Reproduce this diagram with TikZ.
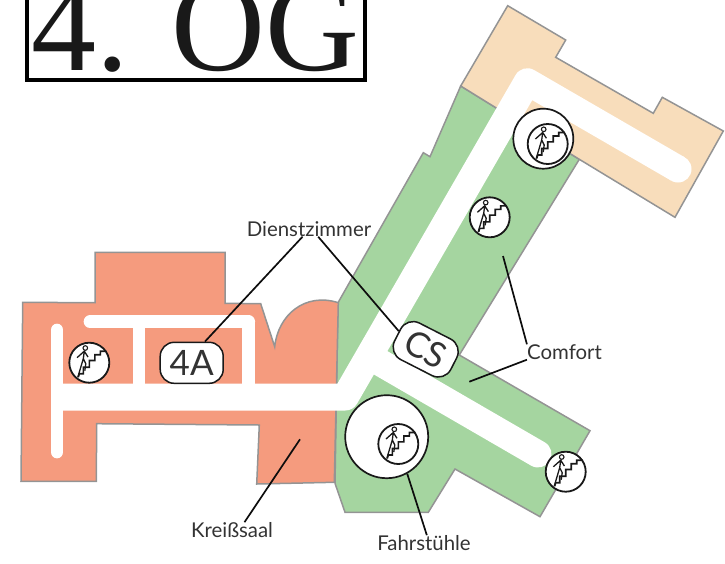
\documentclass[tikz,border=0pt]{standalone}
\usepackage{fontspec}
\newfontfamily\labelfont{Lato}
\newfontfamily\titlefont{Liberation Serif}
\definecolor{wardgreen}{RGB}{165,213,160}
\definecolor{wardsand}{RGB}{248,221,187}
\definecolor{wardred}{RGB}{245,155,126}
\tikzset{
  area/.style={draw=black!42,line width=1.5pt,line join=miter},
  corridor/.style={draw=white,line width=27pt,line join=round},
  sidecorridor/.style={draw=white,line width=12.7pt,line join=round},
  leader/.style={draw=black!95,line width=1.7pt},
  roomtag/.style={draw=black!90,line width=1.5pt,fill=white,rounded corners=14pt,minimum width=63pt,minimum height=41pt,inner sep=0pt,text=black!80,font=\labelfont\fontsize{35}{35}\selectfont},
  liftring/.style={draw=black!90,line width=1.7pt,fill=white,circle,inner sep=0pt},
  caption/.style={inner sep=0pt,text=black!80,font=\labelfont\fontsize{20.4}{20.4}\selectfont},
  stairsicon/.pic={
    \draw[black!90,line width=1.8pt,fill=white] (0,0) circle (20pt);
    \draw[black!90,line width=1.6pt] (-11,14.5) -- (-10,11) -- (-6,11) -- (-6,4.5) -- (0,4.5) -- (0,-2.2) -- (5.5,-2.2) -- (5.5,-8) -- (11,-8) -- (11,-11.5) -- (17,-11.5);
    \draw[black!90,line width=1.1pt] (-4,-14.7) circle (2.3pt);
    \draw[black!90,line width=1.3pt] (-12.3,-5) -- (-5,-11.5) -- (-1.3,-5.7) (-5,-11.5) -- (-6,-4) -- (-11.5,14.5) (-6,-4) -- (-3.5,1) -- (-4.5,8);
  }
}
\begin{document}
\begin{tikzpicture}[x=1pt,y=-1pt]
  \clip (0,0) rectangle (725,563);
  % Wards
  \draw[area,fill=wardgreen] (338,302.7) -- (423.3,152.7) -- (430,156.7) -- (460.7,86) -- (579.3,159.3) -- (459.3,355) -- (590,430.7) -- (540,516.7) -- (455,469) -- (428.3,512.3) -- (345,512.3) -- (335,483.3) -- cycle;
  \draw[area,fill=wardsand] (460.7,86) -- (507.7,5.7) -- (565.7,40) -- (555.7,57.3) -- (653.3,113.3) -- (662.3,97.3) -- (723.3,131) -- (675,217.3) -- (579.3,159.3) -- cycle;
  \draw[area,fill=wardred] (22.7,302.3) -- (95,302.7) -- (95,252.3) -- (225,252.3) -- (225,303.3) -- (260.7,303.7) -- (274.7,346.7) .. controls (278,315) and (305,292) .. (338.3,302.7) -- (334.3,482.3) -- (256.7,484) -- (259.3,425) -- (96.7,423.7) -- (96.3,481.3) -- (21,481.3) -- cycle;
  % Corridors
  \draw[sidecorridor,line cap=round] (57,330) -- (57,452);
  \draw[sidecorridor,line cap=round] (90,321.7) -- (248.7,321.7);
  \draw[sidecorridor] (248.7,321.7) -- (248.7,390);
  \draw[sidecorridor] (139,321.7) -- (139,390);
  \draw[corridor] (57,397) -- (345.3,397) -- (527.3,81.7) -- (678,169);
  \fill[white] (678,169) circle (13.5pt);
  \draw[corridor,line cap=round] (372,357.8) -- (538,454);
  % Lifts and stairs
  \node[liftring,minimum size=83pt] (liftwest) at (386.7,436.7) {};
  \node[liftring,minimum size=60pt] (lifteast) at (543.3,138.7) {};
  \pic at (89.3,362.7) {stairsicon};
  \pic at (398.3,444) {stairsicon};
  \pic at (565.7,471.7) {stairsicon};
  \pic at (489.7,217.3) {stairsicon};
  \pic at (547.7,144) {stairsicon};
  % Rooms
  \node[roomtag] (room4a) at (191.7,362.8) {4A};
  \node[roomtag,rotate=-27] (roomcs) at (425.7,349.3) {CS};
  % Captions
  \node[caption] (dienst) at (309,229) {Dienstzimmer};
  \node[caption] (comfort) at (564.5,352) {Comfort};
  \node[caption] (kreiss) at (232,530) {Kreißsaal};
  \node[caption] (fahr) at (424,543) {Fahrstühle};
  \coordinate (kreissend) at (300,439.3);
  \coordinate (comfortnorth) at (503,256);
  \coordinate (comfortsouth) at (469.3,381.7);
  % Leaders
  \draw[leader] (dienst.-130) -- (room4a.58);
  \draw[leader] (dienst.-40) -- (roomcs.173);
  \draw[leader] (kreiss.32) -- (kreissend);
  \draw[leader] (fahr.70) -- (liftwest.-61);
  \draw[leader] (comfort.north west) -- (comfortnorth);
  \draw[leader] (comfort.south west) -- (comfortsouth);
  % Title
  \draw[line width=4pt] (27,-10) -- (27,80) -- (364.7,80) -- (364.7,-10);
  \node[inner sep=0pt,anchor=base west,text=black!90,font=\titlefont\fontsize{130}{130}\selectfont] (title) at (31,70) {4. OG};
\end{tikzpicture}
\end{document}
